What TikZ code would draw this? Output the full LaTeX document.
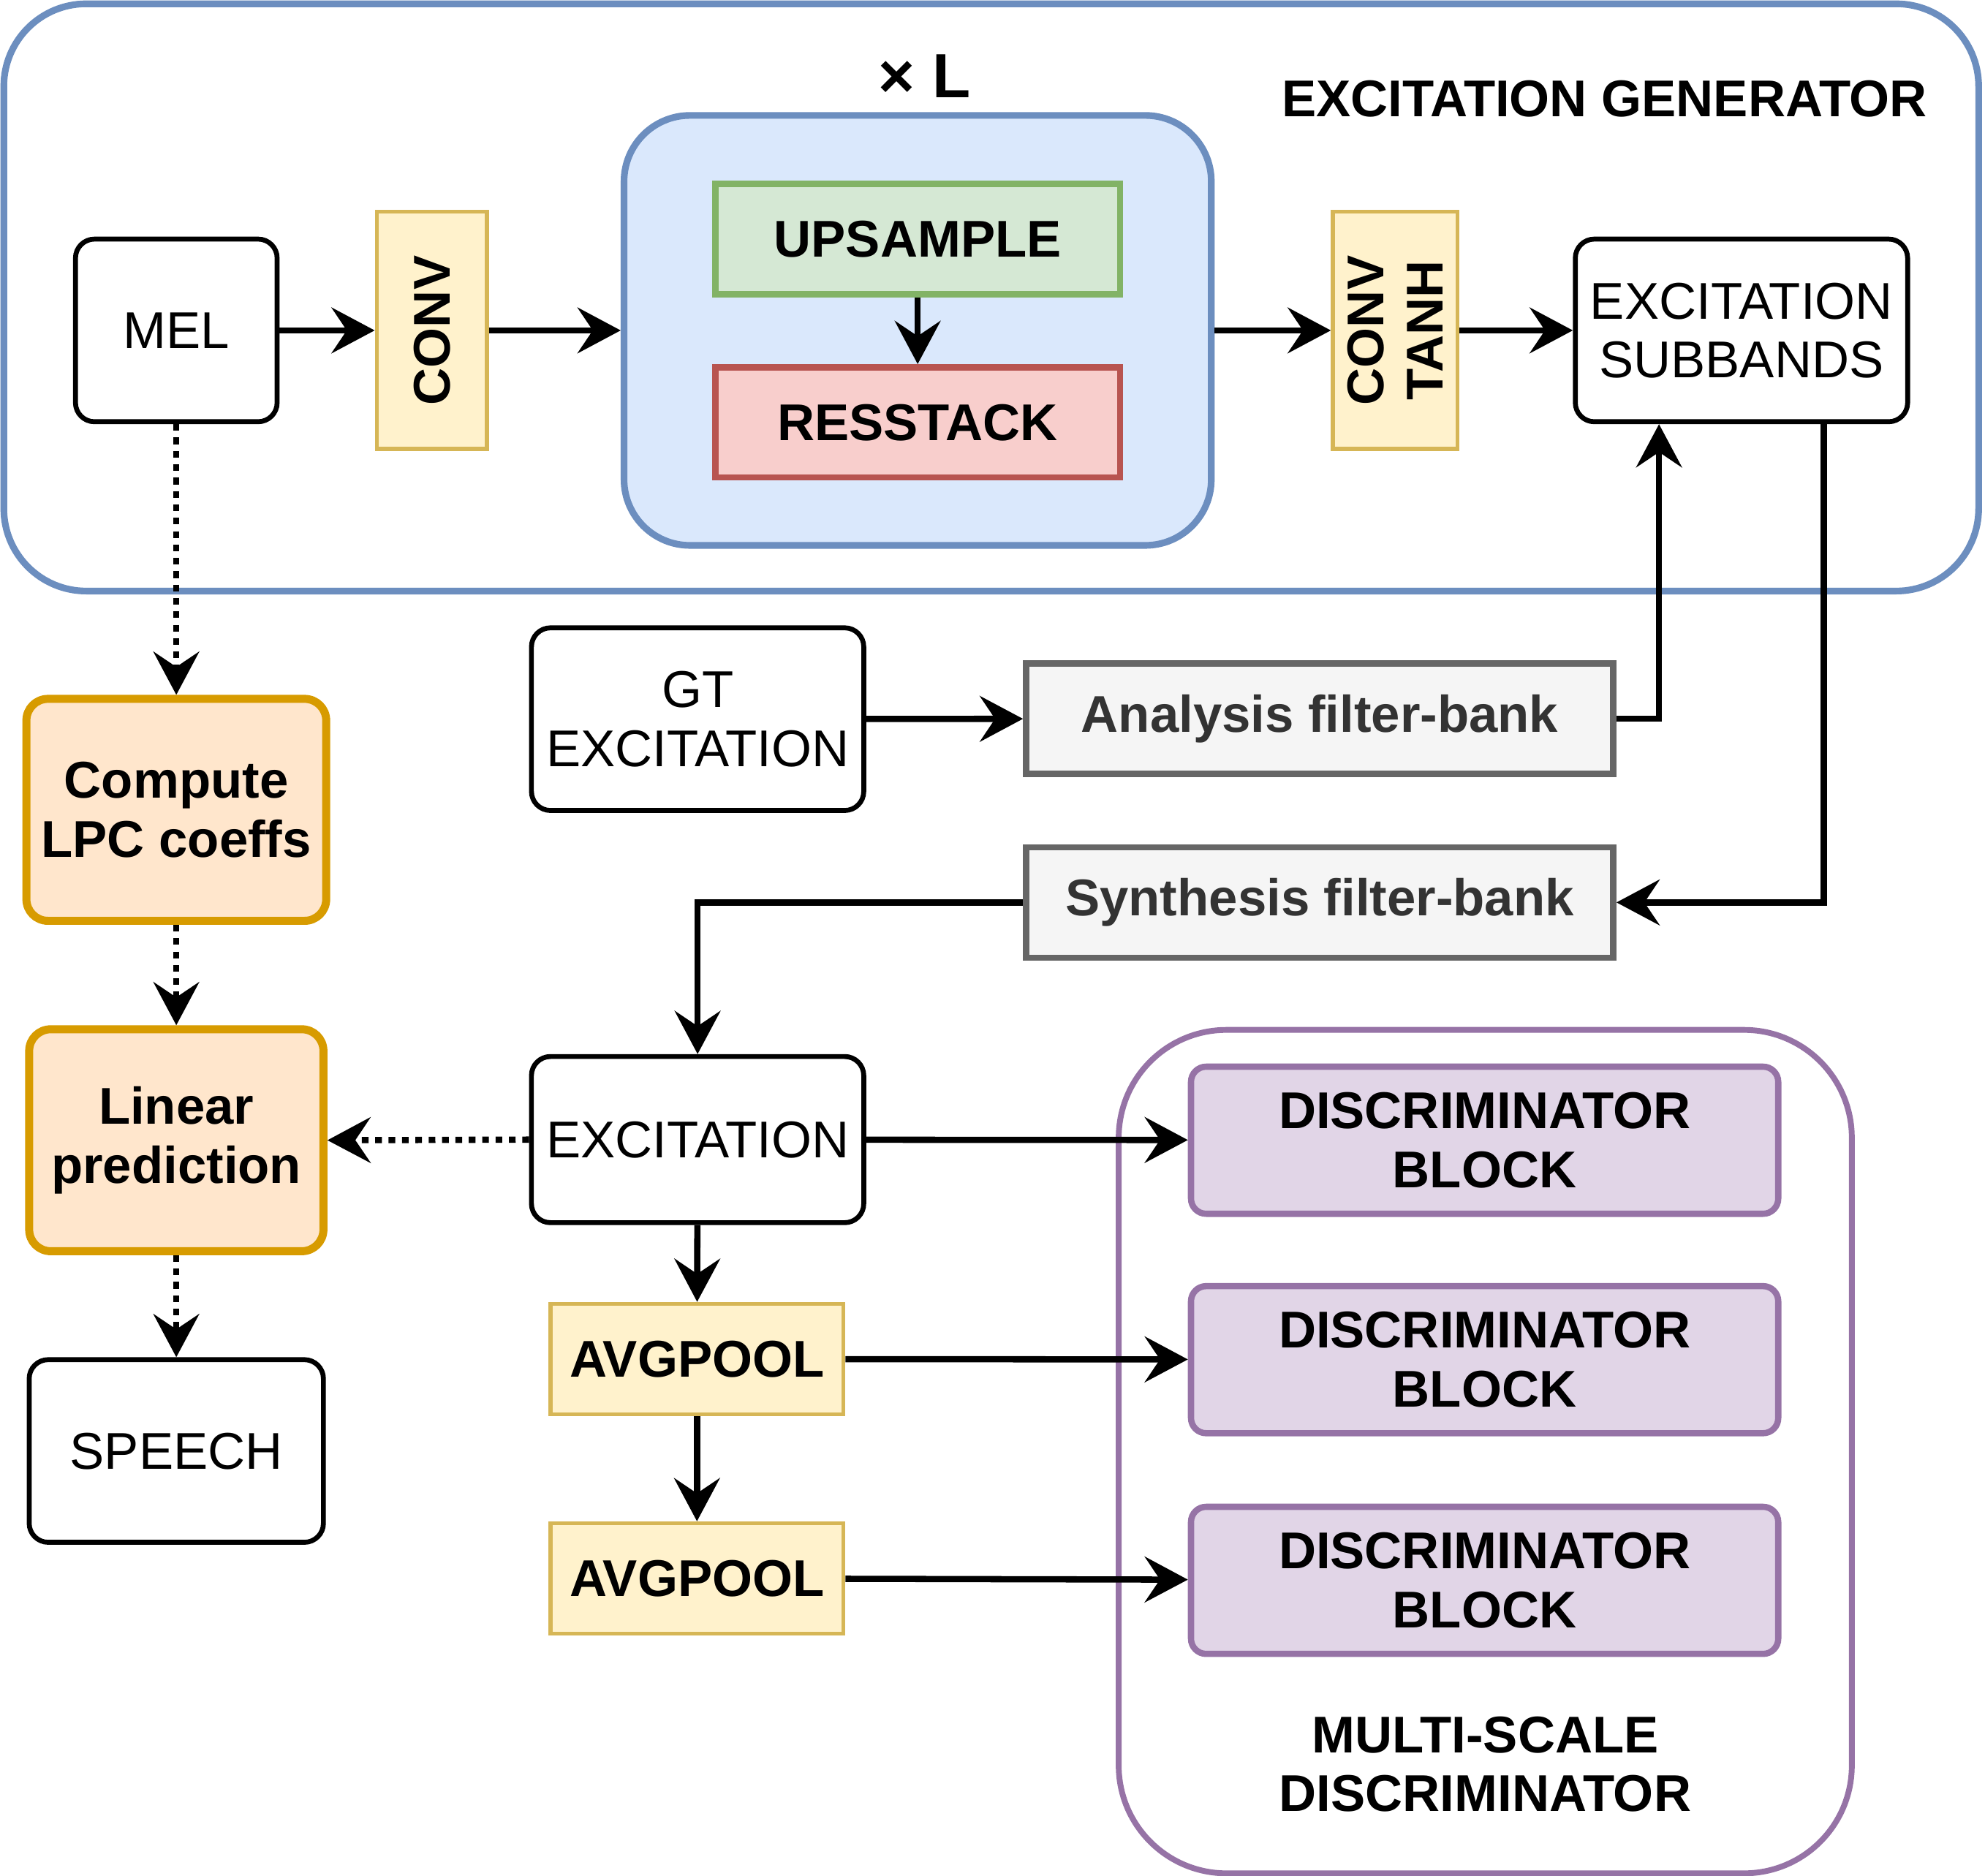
\documentclass[tikz,border=0pt]{standalone}
\usepackage{fontspec}
\setmainfont{Liberation Sans}
\usetikzlibrary{positioning, arrows.meta}

\definecolor{blueline}{HTML}{6C8EBF}
\definecolor{bluefill}{HTML}{DAE8FC}
\definecolor{greenline}{HTML}{82B366}
\definecolor{greenfill}{HTML}{D5E8D4}
\definecolor{redline}{HTML}{B85450}
\definecolor{redfill}{HTML}{F8CECC}
\definecolor{yellowline}{HTML}{D6B656}
\definecolor{yellowfill}{HTML}{FFF2CC}
\definecolor{greyline}{HTML}{666666}
\definecolor{greyfill}{HTML}{F5F5F5}
\definecolor{greytext}{HTML}{333333}
\definecolor{orangeline}{HTML}{D79B00}
\definecolor{orangefill}{HTML}{FFE6CC}
\definecolor{purpleline}{HTML}{9673A6}
\definecolor{purplefill}{HTML}{E1D5E7}

\tikzset{
  plainbox/.style={draw, line width=1.1pt, rounded corners=1.5mm, fill=white, align=center},
  convbox/.style={draw=yellowline, fill=yellowfill, line width=0.9pt, align=center, font=\fontsize{11.6}{13.2}\selectfont\bfseries},
  layerbox/.style={line width=1.4pt, align=center, font=\fontsize{11.6}{13.2}\selectfont\bfseries, minimum width=31.9mm, minimum height=8.7mm},
  filterbox/.style={draw=greyline, fill=greyfill, line width=1.4pt, text=greytext, font=\fontsize{11.6}{13.2}\selectfont\bfseries, minimum width=46.3mm, minimum height=8.7mm},
  lpcbox/.style={draw=orangeline, fill=orangefill, line width=1.8pt, rounded corners=1.7mm, align=center, font=\fontsize{11.6}{13.2}\selectfont\bfseries, minimum width=23.2mm, minimum height=17.5mm},
  discbox/.style={draw=purpleline, fill=purplefill, line width=1.4pt, rounded corners=1.2mm, align=center, font=\fontsize{11.6}{13.2}\selectfont\bfseries, minimum width=46.3mm, minimum height=11.6mm},
  title/.style={align=center, font=\fontsize{11.6}{13.2}\selectfont\bfseries},
  arr/.style={line width=1.4pt, -{Stealth[length=3.4mm, width=3.6mm, inset=1.2mm]}},
  dotarr/.style={arr, dash pattern=on 1.5pt off 1.5pt}
}

\begin{document}
\begin{tikzpicture}[x=0.1mm, y=-0.1mm, font=\fontsize{11.6}{13.2}\selectfont]
\useasboundingbox (0,0) rectangle (1565,1479);

% excitation generator
\node (exgen) at (781.5,234.5) [draw=blueline, line width=1.5pt, rounded corners=6.5mm, minimum width=155.7mm, minimum height=46.3mm] {};
\node (exgentitle) at (1265,78) [title] {EXCITATION GENERATOR};
\node (gen) at (723.5,260.5) [draw=blueline, fill=bluefill, line width=1.5pt, rounded corners=5.2mm, minimum width=46.3mm, minimum height=33.9mm] {};
\node (times) at (729,60) [title, font=\fontsize{14}{16}\selectfont\bfseries] {× L};
\node (up) at (723.5,188.5) [layerbox, draw=greenline, fill=greenfill] {UPSAMPLE};
\node (res) at (723.5,333) [layerbox, draw=redline, fill=redfill] {RESSTACK};
\node (mel) at (139,260.5) [plainbox, minimum width=15.9mm, minimum height=14.4mm] {MEL};
\node (conv) at (340.5,260.5) [convbox, rotate=90, minimum width=18.7mm, minimum height=8.7mm] {CONV};
\node (tanh) at (1100,260.5) [convbox, rotate=90, minimum width=18.7mm, minimum height=9.8mm] {CONV\\TANH};
\node (sub) at (1373,260.5) [plainbox, minimum width=26mm, minimum height=14.4mm] {EXCITATION\\SUBBANDS};

\draw[arr] (mel) -- (conv);
\draw[arr] (conv) -- (gen);
\draw[arr] (up) -- (res);
\draw[arr] (gen) -- (tanh);
\draw[arr] (tanh) -- (sub);

% filter-banks
\node (gt) at (550,567) [plainbox, minimum width=26mm, minimum height=14.4mm] {GT\\EXCITATION};
\node (ana) at (1040.5,566.5) [filterbox] {Analysis filter-bank};
\node (syn) at (1040.5,711.5) [filterbox] {Synthesis filter-bank};
\node (exc) at (550,898.5) [plainbox, minimum width=26mm, minimum height=13.1mm] {EXCITATION};

\draw[arr] (gt) -- (ana);
\draw[arr] (ana.east) -| ([xshift=-6.5mm]sub.south);
\draw[arr] ([xshift=6.5mm]sub.south) |- (syn.east);
\draw[arr] (syn.west) -| (exc.north);

% LPC part
\node (lpc) at (139,638.5) [lpcbox] {Compute\\LPC coeffs};
\node (lp) at (139,899) [lpcbox] {Linear\\prediction};
\node (speech) at (139,1144) [plainbox, minimum width=23.2mm, minimum height=14.4mm] {SPEECH};

\draw[dotarr] (mel) -- (lpc);
\draw[dotarr] (lpc) -- (lp);
\draw[dotarr] (lp) -- (speech);
\draw[dotarr] (exc.west) -- (lp.east);

% multi-scale discriminator
\node (msd) at (1171,1144.5) [draw=purpleline, line width=1.3pt, rounded corners=8.5mm, minimum width=57.8mm, minimum height=66.5mm] {};
\node (msdtitle) at (1171,1391) [title] {MULTI-SCALE\\DISCRIMINATOR};
\node (d1) at (1170.5,899) [discbox] {DISCRIMINATOR\\BLOCK};
\node (d2) at (1170.5,1072) [discbox] {DISCRIMINATOR\\BLOCK};
\node (d3) at (1170.5,1246) [discbox] {DISCRIMINATOR\\BLOCK};
\node (pool1) at (549.5,1071.5) [convbox, minimum width=23.1mm, minimum height=8.7mm] {AVGPOOL};
\node (pool2) at (549.5,1244.5) [convbox, minimum width=23.1mm, minimum height=8.7mm] {AVGPOOL};

\draw[arr] (exc) -- (d1);
\draw[arr] (exc) -- (pool1);
\draw[arr] (pool1) -- (pool2);
\draw[arr] (pool1) -- (d2);
\draw[arr] (pool2) -- (d3);
\end{tikzpicture}
\end{document}
